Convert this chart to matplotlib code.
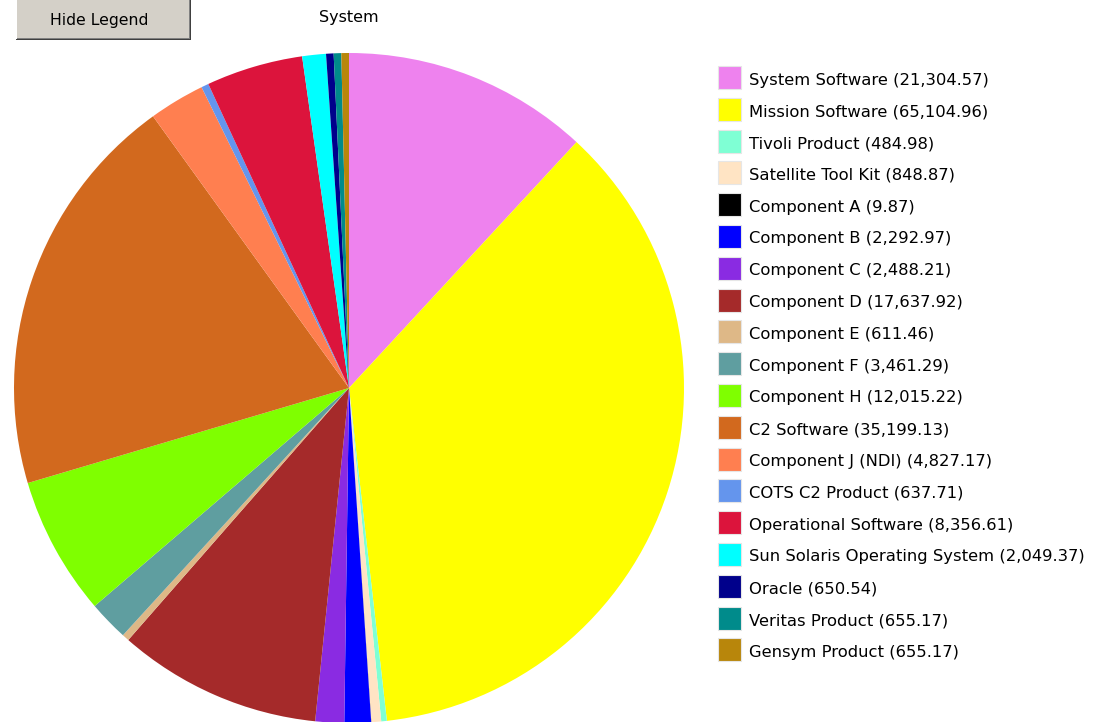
import matplotlib
matplotlib.use("Agg")
import matplotlib.pyplot as plt
from matplotlib.patches import Rectangle

labels = ["System Software", "Mission Software", "Tivoli Product", "Satellite Tool Kit",
          "Component A", "Component B", "Component C", "Component D", "Component E",
          "Component F", "Component H", "C2 Software", "Component J (NDI)",
          "COTS C2 Product", "Operational Software", "Sun Solaris Operating System",
          "Oracle", "Veritas Product", "Gensym Product"]
values = [21304.57, 65104.96, 484.98, 848.87, 9.87, 2292.97, 2488.21, 17637.92, 611.46,
          3461.29, 12015.22, 35199.13, 4827.17, 637.71, 8356.61, 2049.37, 650.54,
          655.17, 655.17]
colors = ["#EE82EE", "#FFFF00", "#7FFFD4", "#FFE4C4", "#000000", "#0000FF", "#8A2BE2",
          "#A52A2A", "#DEB887", "#5F9EA0", "#7FFF00", "#D2691E", "#FF7F50", "#6495ED",
          "#DC143C", "#00FFFF", "#00008B", "#008B8B", "#B8860B"]
title = "System"
button_text = "Hide Legend"

W, H = 1094, 722
fig = plt.figure(figsize=(W / 100, H / 100), dpi=100)
fig.patch.set_facecolor("white")

def fx(px):
    return px / W

def fy(py):
    return 1 - py / H

def rect(x0, y0, x1, y1, color, **kw):
    fig.patches.append(Rectangle((fx(x0), fy(y1)), (x1 - x0) / W, (y1 - y0) / H,
                                 transform=fig.transFigure, facecolor=color, **kw))

# pie axes: center (349, 388), radius 335 px
cx, cy, r = 349, 388, 335
ax = fig.add_axes([fx(cx - r), fy(cy + r), 2 * r / W, 2 * r / H])
ax.pie(values, colors=colors, startangle=90, counterclock=False, radius=1,
       wedgeprops=dict(linewidth=0, antialiased=True))
ax.set_xlim(-1, 1)
ax.set_ylim(-1, 1)
ax.set_aspect("auto")
ax.axis("off")

# title
fig.text(fx(349), fy(22), title, ha="center", va="baseline", fontsize=11.5,
         family="DejaVu Sans", color="black")

# button (3D look)
rect(16, 0, 191, 40, "#404040", edgecolor="none")
rect(16, 0, 190, 39, "#FFFFFF", edgecolor="none")
rect(17, 0, 190, 39, "#808080", edgecolor="none")
rect(17, 0, 189, 38, "#D4D0C8", edgecolor="none")
fig.text(fx(99.5), fy(25), button_text, ha="center", va="baseline",
         fontsize=11.3, family="DejaVu Sans", color="black")

# legend
y0, dy = 77.5, 31.8
sq = 23
for i, (lab, val, col) in enumerate(zip(labels, values, colors)):
    yc = y0 + i * dy
    rect(718, yc - sq / 2, 718 + sq, yc + sq / 2, col, edgecolor="#e6e6e6", linewidth=0.8)
    fig.text(fx(749), fy(yc + 7), f"{lab} ({val:,.2f})", ha="left", va="baseline",
             fontsize=11.75, family="DejaVu Sans", color="black")

fig.savefig("out.png", dpi=100)
